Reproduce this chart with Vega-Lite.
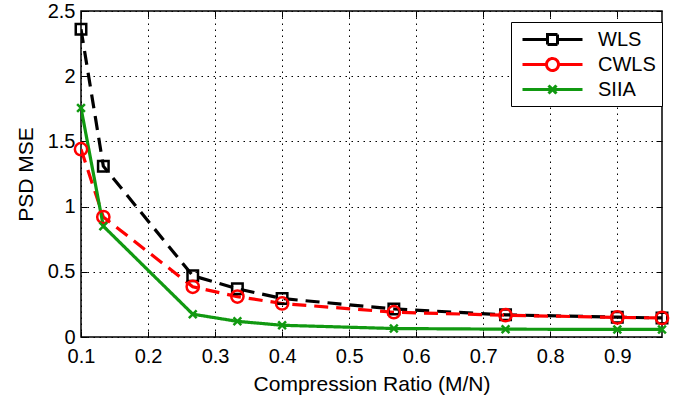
{
  "$schema": "https://vega.github.io/schema/vega-lite/v6.json",
  "autosize": "none",
  "width": 581,
  "height": 326,
  "padding": {"left": 81, "top": 11, "right": 11, "bottom": 64},
  "background": "white",
  "config": {
    "font": "Liberation Sans",
    "view": {"stroke": "black", "strokeWidth": 1.5},
    "axis": {
      "labelFont": "Liberation Sans",
      "titleFont": "Liberation Sans",
      "labelFontSize": 20,
      "titleFontSize": 20,
      "labelColor": "black",
      "titleColor": "black",
      "titleFontWeight": "normal",
      "domain": false,
      "tickColor": "black",
      "tickSize": -6,
      "tickWidth": 1,
      "gridColor": "black",
      "gridDash": [1.5, 4.5],
      "gridOpacity": 1,
      "gridWidth": 1
    },
    "legend": {
      "orient": "none",
      "legendX": 430,
      "legendY": 11,
      "padding": 6,
      "strokeColor": "black",
      "fillColor": "white",
      "labelFontSize": 20,
      "labelFont": "Liberation Sans",
      "labelColor": "black",
      "symbolSize": 400,
      "symbolStrokeWidth": 3,
      "rowPadding": 1,
      "labelOffset": 58,
      "symbolOpacity": 1,
      "symbolDash": [1, 0],
      "symbolFillColor": "transparent"
    }
  },
  "data": {
    "values": [
      {"ratio": 0.1, "mse": 2.36, "series": "WLS"},
      {"ratio": 0.1333, "mse": 1.31, "series": "WLS"},
      {"ratio": 0.2667, "mse": 0.47, "series": "WLS"},
      {"ratio": 0.3333, "mse": 0.37, "series": "WLS"},
      {"ratio": 0.4, "mse": 0.295, "series": "WLS"},
      {"ratio": 0.5667, "mse": 0.215, "series": "WLS"},
      {"ratio": 0.7333, "mse": 0.17, "series": "WLS"},
      {"ratio": 0.9, "mse": 0.152, "series": "WLS"},
      {"ratio": 0.9667, "mse": 0.146, "series": "WLS"},
      {"ratio": 0.1, "mse": 1.44, "series": "CWLS"},
      {"ratio": 0.1333, "mse": 0.92, "series": "CWLS"},
      {"ratio": 0.2667, "mse": 0.385, "series": "CWLS"},
      {"ratio": 0.3333, "mse": 0.31, "series": "CWLS"},
      {"ratio": 0.4, "mse": 0.257, "series": "CWLS"},
      {"ratio": 0.5667, "mse": 0.19, "series": "CWLS"},
      {"ratio": 0.7333, "mse": 0.167, "series": "CWLS"},
      {"ratio": 0.9, "mse": 0.15, "series": "CWLS"},
      {"ratio": 0.9667, "mse": 0.146, "series": "CWLS"},
      {"ratio": 0.1, "mse": 1.757, "series": "SIIA"},
      {"ratio": 0.1333, "mse": 0.85, "series": "SIIA"},
      {"ratio": 0.2667, "mse": 0.175, "series": "SIIA"},
      {"ratio": 0.3333, "mse": 0.12, "series": "SIIA"},
      {"ratio": 0.4, "mse": 0.09, "series": "SIIA"},
      {"ratio": 0.5667, "mse": 0.065, "series": "SIIA"},
      {"ratio": 0.7333, "mse": 0.06, "series": "SIIA"},
      {"ratio": 0.9, "mse": 0.058, "series": "SIIA"},
      {"ratio": 0.9667, "mse": 0.058, "series": "SIIA"}
    ]
  },
  "resolve": {"axis": {"x": "independent", "y": "independent"}},
  "layer": [
    {
      "mark": {"type": "line", "strokeWidth": 3.2, "clip": true},
      "encoding": {
        "x": {
          "field": "ratio", "type": "quantitative",
          "scale": {"domain": [0.1, 0.9667], "nice": false, "zero": false},
          "axis": {"values": [0.1, 0.2, 0.3, 0.4, 0.5, 0.6, 0.7, 0.8, 0.9], "title": "Compression Ratio (M/N)", "grid": true, "labelPadding": 15, "titlePadding": 7, "labelFlush": false, "labelFontSize": 20, "titleFontSize": 21}
        },
        "y": {
          "field": "mse", "type": "quantitative",
          "scale": {"domain": [0, 2.5], "nice": false},
          "axis": {"values": [0, 0.5, 1, 1.5, 2, 2.5], "format": "~g", "title": "PSD MSE", "grid": true, "labelPadding": 12, "titlePadding": 11, "labelFlush": false, "labelFontSize": 20, "titleFontSize": 21}
        },
        "color": {
          "field": "series", "type": "nominal",
          "scale": {"domain": ["WLS", "CWLS", "SIIA"], "range": ["#000000", "#ff0000", "#119911"]},
          "legend": {
            "title": null,
            "symbolType": "M-0.6,0H5.4",
            "encode": {
              "symbols": {
                "update": {
                  "shape": {"signal": "datum.value === 'WLS' ? 'M-0.6,0H1.9M2.9,0H5.4M1.9,-0.5H2.9V0.5H1.9Z' : datum.value === 'CWLS' ? 'M-0.6,0H1.8M3,0H5.4M1.8,0A0.6,0.6,0,1,0,3,0A0.6,0.6,0,1,0,1.8,0Z' : 'M-0.6,0H5.4M2,-0.4L2.8,0.4M2,0.4L2.8,-0.4'"}
                }
              }
            }
          }
        },
        "strokeDash": {
          "condition": {"test": "datum.series === 'SIIA'", "value": [1, 0]},
          "value": [14, 8]
        }
      }
    },
    {
      "mark": {"type": "point", "filled": false, "strokeWidth": 2.5, "opacity": 1},
      "encoding": {
        "x": {"field": "ratio", "type": "quantitative", "axis": {"orient": "top", "labels": false, "title": null, "grid": false, "values": [0.1, 0.2, 0.3, 0.4, 0.5, 0.6, 0.7, 0.8, 0.9]}},
        "y": {"field": "mse", "type": "quantitative", "axis": {"orient": "right", "labels": false, "title": null, "grid": false, "values": [0, 0.5, 1, 1.5, 2, 2.5]}},
        "color": {"field": "series", "type": "nominal"},
        "shape": {
          "condition": [
            {"test": "datum.series === 'WLS'", "value": "square"},
            {"test": "datum.series === 'CWLS'", "value": "circle"}
          ],
          "value": "M-1,-1L1,1M-1,1L1,-1"
        },
        "size": {
          "condition": [
            {"test": "datum.series === 'WLS'", "value": 110},
            {"test": "datum.series === 'CWLS'", "value": 150}
          ],
          "value": 60
        }
      }
    }
  ]
}
